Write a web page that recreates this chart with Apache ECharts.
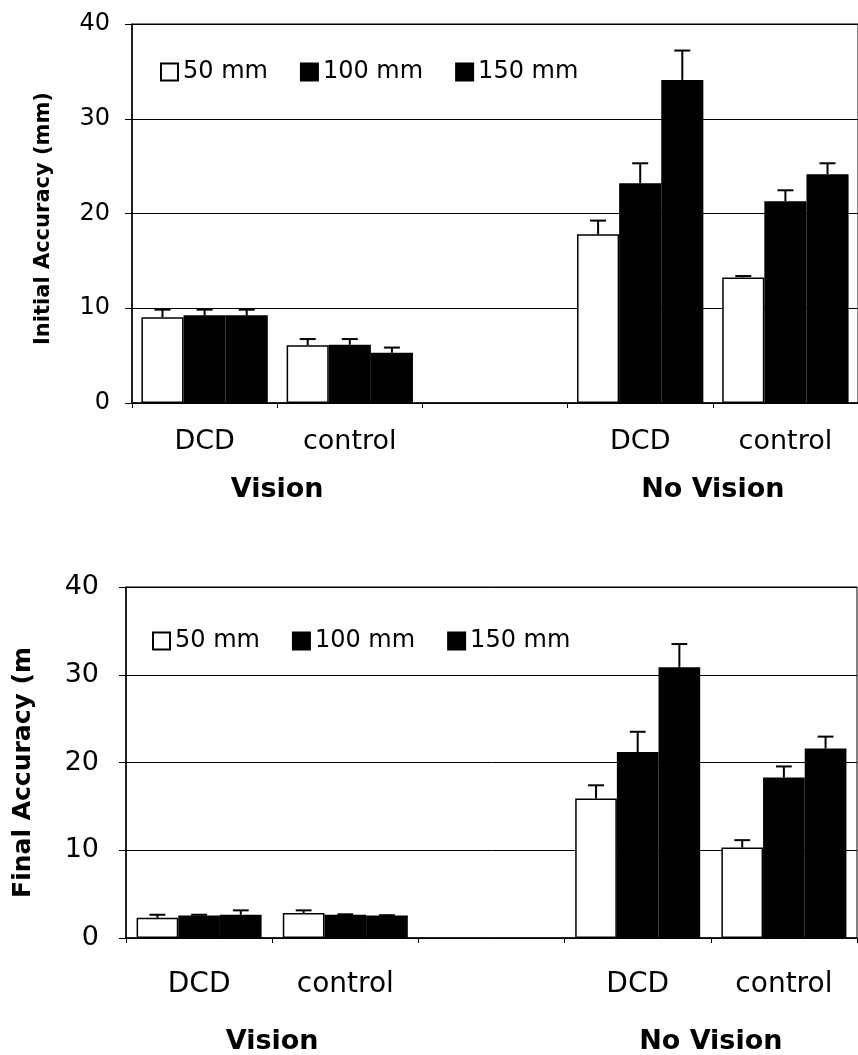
<!DOCTYPE html>
<html>
<head>
<meta charset="utf-8">
<script src="https://cdn.jsdelivr.net/npm/echarts@6/dist/echarts.min.js"></script>
<style>
  html, body { margin: 0; padding: 0; background: #fff; }
  #chart { width: 858px; height: 1055px; }
</style>
</head>
<body>
<div id="chart"></div>
<script>
// ---- Data ----
const categories = ['DCD', 'control', '', 'DCD', 'control'];
const groupLabels = ['Vision', 'No Vision'];
const groupLabelPos = [1, 4];
const seriesNames = ['50 mm', '100 mm', '150 mm'];
const yTicks = [0, 10, 20, 30, 40];

// Initial accuracy (top chart) means and SE
const initial50 = [9.05, 6.1, null, 17.8, 13.25];
const initial50Err = [0.8, 0.65, null, 1.45, 0.15];
const initial100 = [9.25, 6.15, null, 23.2, 21.3];
const initial100Err = [0.6, 0.6, null, 2.1, 1.15];
const initial150 = [9.25, 5.3, null, 34.1, 24.15];
const initial150Err = [0.6, 0.55, null, 3.1, 1.15];

// Final accuracy (bottom chart) means and SE
const final50 = [2.3, 2.85, null, 15.9, 10.3];
const final50Err = [0.35, 0.3, null, 1.5, 0.85];
const final100 = [2.55, 2.65, null, 21.2, 18.3];
const final100Err = [0.1, 0.05, null, 2.3, 1.25];
const final150 = [2.65, 2.55, null, 30.85, 21.6];
const final150Err = [0.5, 0.05, null, 2.65, 1.35];

// ---- Chart ----
const FONT = 'DejaVu Sans';
const fills = ['#ffffff', '#000000', '#000000'];

function makeErrRender(gap) {
  return function (params, api) {
    const cat = api.value(0), k = api.value(1), mean = api.value(2), err = api.value(3);
    const base = api.coord([cat, mean]);
    const top = api.coord([cat, mean + err]);
    const band = api.size([1, 0])[0];
    const groupW = band * (1 - gap);
    const bw = groupW / 3;
    const x = base[0] - groupW / 2 + (k + 0.5) * bw;
    const capHalf = bw * 0.19;
    return {
      type: 'group',
      children: [
        { type: 'line', shape: { x1: x, y1: base[1], x2: x, y2: top[1] }, style: { stroke: '#000', lineWidth: 2 } },
        { type: 'line', shape: { x1: x - capHalf, y1: top[1], x2: x + capHalf, y2: top[1] }, style: { stroke: '#000', lineWidth: 2 } }
      ]
    };
  };
}

function buildErrData(meansList, errsList) {
  const out = [];
  meansList.forEach((means, k) => {
    means.forEach((m, i) => {
      if (m !== null) out.push([i, k, m, errsList[k][i]]);
    });
  });
  return out;
}

const charts = [
  {
    name: 'Initial Accuracy (mm)', means: [initial50, initial100, initial150], errs: [initial50Err, initial100Err, initial150Err],
    grid: { left: 132, top: 24, width: 734, height: 379 }, gap: 0.13,
    tickFont: 24, catFont: 27, catMargin: 25, groupMargin: 73, labelMargin: 22,
    nameFont: 21, nameGap: 78, namePad: [0, 10, 0, 0],
    legend: { left: 155, top: 55 }
  },
  {
    name: 'Final Accuracy (m', means: [final50, final100, final150], errs: [final50Err, final100Err, final150Err],
    grid: { left: 126, top: 587, width: 731, height: 352 }, gap: 0.145,
    tickFont: 27, catFont: 28, catMargin: 33, groupMargin: 90, labelMargin: 27,
    nameFont: 25, nameGap: 90, namePad: [0, 20, 0, 0],
    legend: { left: 147, top: 624 }
  }
];

const option = {
  backgroundColor: '#fff',
  animation: false,
  textStyle: { fontFamily: FONT, color: '#000' },
  grid: [], xAxis: [], yAxis: [], series: [], legend: []
};

charts.forEach((c, gi) => {
  option.grid.push(Object.assign({ show: true, borderColor: '#000', borderWidth: 1, backgroundColor: '#fff', containLabel: false }, c.grid));
  // category axis
  option.xAxis.push({
    type: 'category', gridIndex: gi, data: categories,
    axisLine: { lineStyle: { color: '#000', width: 1.5 } },
    axisTick: { show: true, interval: 0, length: 5, lineStyle: { color: '#000' } },
    axisLabel: { interval: 0, margin: c.catMargin, fontSize: c.catFont, color: '#000', fontFamily: FONT },
    splitLine: { show: false }
  });
  // group label axis
  option.xAxis.push({
    type: 'value', gridIndex: gi, min: 0, max: 5, position: 'bottom',
    axisLine: { show: false }, axisTick: { show: false }, splitLine: { show: false },
    axisLabel: {
      customValues: groupLabelPos, margin: c.groupMargin, fontSize: 27, fontWeight: 'bold', color: '#000', fontFamily: FONT,
      formatter: v => groupLabels[groupLabelPos.indexOf(v)] || ''
    }
  });
  option.yAxis.push({
    type: 'value', gridIndex: gi, min: yTicks[0], max: yTicks[yTicks.length - 1], interval: 10,
    name: c.name, nameLocation: 'middle', nameGap: c.nameGap, nameRotate: 90,
    nameTextStyle: { fontSize: c.nameFont, fontWeight: 'bold', color: '#000', fontFamily: FONT, padding: c.namePad },
    axisLine: { show: true, lineStyle: { color: '#000', width: 1.5 } },
    axisTick: { show: true, length: 7, lineStyle: { color: '#000' } },
    axisLabel: { margin: c.labelMargin, fontSize: c.tickFont, color: '#000', fontFamily: FONT },
    splitLine: { show: true, lineStyle: { color: '#000', width: 1 } }
  });
  c.means.forEach((vals, k) => {
    option.series.push({
      type: 'bar', name: seriesNames[k], xAxisIndex: gi * 2, yAxisIndex: gi,
      data: vals, barGap: '0%', barCategoryGap: (c.gap * 100) + '%',
      itemStyle: { color: fills[k], borderColor: '#000', borderWidth: 1.5 },
      emphasis: { disabled: true }
    });
  });
  option.series.push({
    type: 'custom', name: 'err' + gi, xAxisIndex: gi * 2, yAxisIndex: gi,
    renderItem: makeErrRender(c.gap), encode: { x: 0, y: 2 },
    data: buildErrData(c.means, c.errs), z: 5, silent: true
  });
  option.legend.push({
    data: seriesNames, orient: 'horizontal', left: c.legend.left, top: c.legend.top,
    itemWidth: 17, itemHeight: 17, itemGap: 32, icon: 'rect',
    textStyle: { fontSize: 24, color: '#000', fontFamily: FONT }
  });
});

const chart = echarts.init(document.getElementById('chart'), null, { renderer: 'canvas' });
chart.setOption(option);
</script>
</body>
</html>
